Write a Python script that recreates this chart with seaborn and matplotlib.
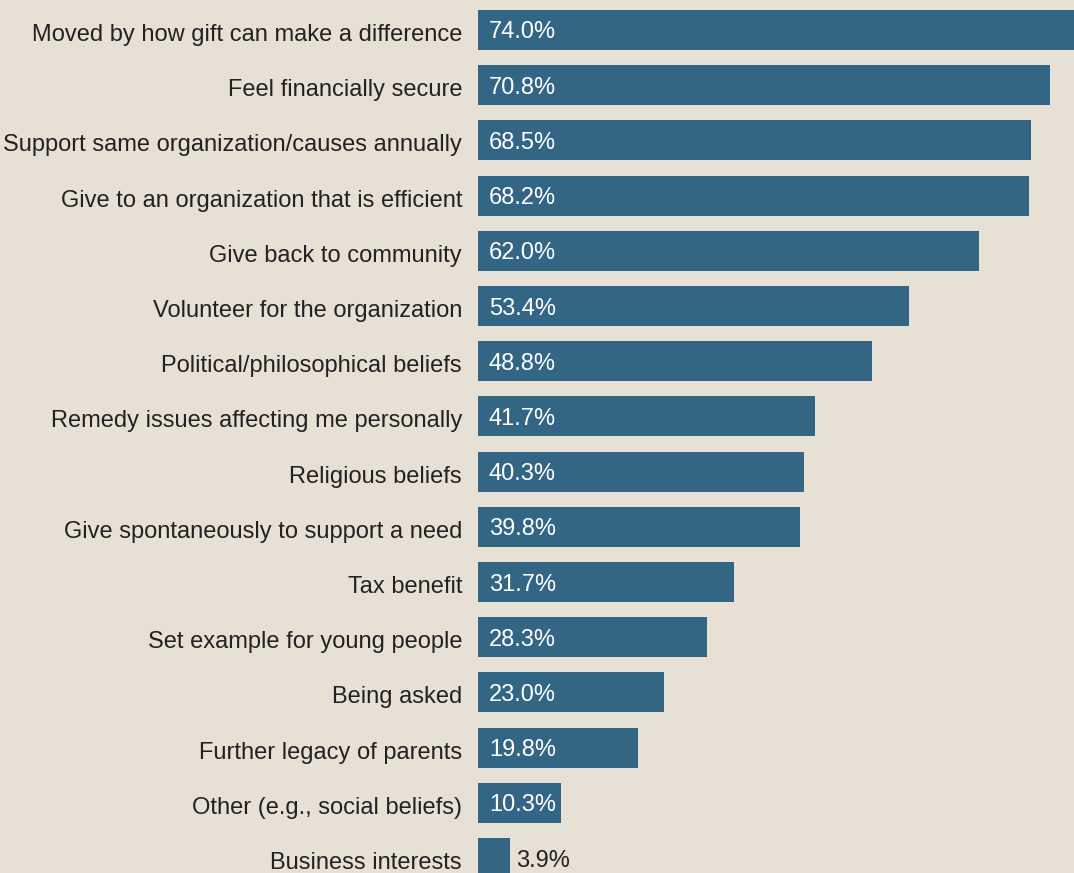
import matplotlib
matplotlib.use("Agg")
import matplotlib.pyplot as plt
import matplotlib.transforms as mtransforms
import seaborn as sns
import pandas as pd

categories = [
    "Moved by how gift can make a difference",
    "Feel financially secure",
    "Support same organization/causes annually",
    "Give to an organization that is efficient",
    "Give back to community",
    "Volunteer for the organization",
    "Political/philosophical beliefs",
    "Remedy issues affecting me personally",
    "Religious beliefs",
    "Give spontaneously to support a need",
    "Tax benefit",
    "Set example for young people",
    "Being asked",
    "Further legacy of parents",
    "Other (e.g., social beliefs)",
    "Business interests",
]
values = [74.0, 70.8, 68.5, 68.2, 62.0, 53.4, 48.8, 41.7, 40.3, 39.8,
          31.7, 28.3, 23.0, 19.8, 10.3, 3.9]

df = pd.DataFrame({"category": categories, "value": values})

BG = "#E6E0D5"
BAR = "#336585"
FS = 17
TXT = "#222222"

sns.set_theme(style="white")
plt.rcParams["font.family"] = ["Liberation Sans", "DejaVu Sans"]

fig = plt.figure(figsize=(10.74, 8.73), dpi=100, facecolor=BG)
ax = fig.add_axes([478 / 1074, 0, 596 / 1074, 1])
ax.set_facecolor(BG)

sns.barplot(data=df, x="value", y="category", color=BAR, width=0.725,
            saturation=1, ax=ax, orient="h", linewidth=0, edgecolor=BAR)

ax.set_xlim(0, 73.76)
ax.set_ylim(15.27, -0.543)
ax.set_xlabel("")
ax.set_ylabel("")
ax.set_xticks([])
for s in ax.spines.values():
    s.set_visible(False)
ax.tick_params(axis="y", length=0, pad=11.5, labelsize=FS, labelcolor=TXT)

shift = mtransforms.ScaledTranslation(0, -2.5 / 100, fig.dpi_scale_trans)
for lab in ax.get_yticklabels():
    lab.set_transform(lab.get_transform() + shift)

for i, v in enumerate(values):
    label = f"{v:.1f}%"
    if v > 8:
        ax.text(1.35, i, label, va="center", ha="left", color="white",
                fontsize=FS, transform=ax.transData + shift)
    else:
        ax.text(v + 0.85, i, label, va="center", ha="left", color=TXT,
                fontsize=FS, transform=ax.transData + shift)

fig.savefig("out.png", dpi=100, facecolor=BG)
